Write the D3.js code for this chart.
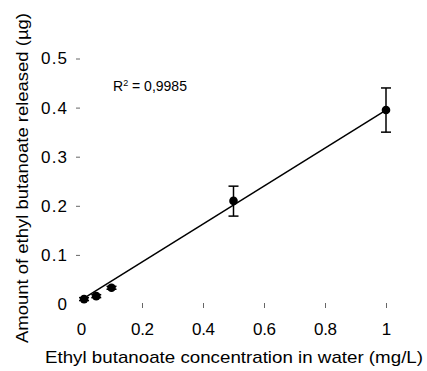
<!DOCTYPE html>
<html>
<head>
<meta charset="utf-8">
<script src="https://cdn.jsdelivr.net/npm/d3@7"></script>
<style>
  body { margin: 0; background: #fff; }
  text { font-family: "Liberation Sans", Arial, sans-serif; fill: #000; }
</style>
</head>
<body>
<div id="chart"></div>
<script>
// measured data
const concentration = [0.01, 0.05, 0.1, 0.5, 1];
const released = [0.01, 0.016, 0.033, 0.21, 0.395];
const errLow = [0.007, 0.013, 0.030, 0.179, 0.35];
const errHigh = [0.013, 0.019, 0.036, 0.24, 0.44];
const xTicks = [0, 0.2, 0.4, 0.6, 0.8, 1];
const yTicks = [0, 0.1, 0.2, 0.3, 0.4, 0.5];
const fitSlope = 0.387;
const fitIntercept = 0.008;
const fitRange = [0.01, 1];

const width = 427, height = 371;

const svg = d3.select('#chart').append('svg')
    .attr('width', width).attr('height', height);

const x = d3.scaleLinear().domain([0, 1]).range([81, 386]);
const y = d3.scaleLinear().domain([0, 0.5]).range([304, 58.5]);

// y axis, ticks only
const yAxis = svg.append('g')
    .attr('transform', 'translate(80,0)')
    .call(d3.axisLeft(y).tickValues(yTicks).tickSize(4).tickPadding(9)
        .tickFormat(d => d === 0 ? '0' : d3.format('.1f')(d)));
yAxis.select('.domain').remove();
yAxis.selectAll('.tick line').attr('stroke', '#666')
    .filter(d => d === 0).remove();
yAxis.selectAll('.tick text').style('font-size', '17px').attr('fill', '#000')
    .attr('textLength', d => d === 0 ? null : 26);

// x axis, ticks only
const xAxis = svg.append('g')
    .attr('transform', 'translate(0,303)')
    .call(d3.axisBottom(x).tickValues(xTicks).tickSize(5)
        .tickFormat(d => d === 0 || d === 1 ? String(d) : d3.format('.1f')(d)));
xAxis.select('.domain').remove();
xAxis.selectAll('.tick line').attr('stroke', '#666')
    .filter(d => d === 0).remove();
xAxis.selectAll('.tick text').style('font-size', '17px').attr('fill', '#000')
    .attr('y', 32).attr('dy', 0)
    .attr('textLength', d => d === 0 || d === 1 ? null : 23);

// regression line
svg.append('line')
    .attr('x1', x(fitRange[0])).attr('y1', y(fitIntercept + fitSlope * fitRange[0]))
    .attr('x2', x(fitRange[1])).attr('y2', y(fitIntercept + fitSlope * fitRange[1]))
    .attr('stroke', '#000').attr('stroke-width', 1.5);

const data = concentration.map((c, i) => ({ c, v: released[i], lo: errLow[i], hi: errHigh[i] }));

// error bars
const eb = svg.append('g').attr('stroke', '#000').attr('stroke-width', 1.5);
eb.selectAll('.bar').data(data).enter().append('line')
    .attr('x1', d => x(d.c)).attr('x2', d => x(d.c))
    .attr('y1', d => y(d.lo)).attr('y2', d => y(d.hi));
eb.selectAll('.cap-hi').data(data).enter().append('line')
    .attr('x1', d => x(d.c) - 5).attr('x2', d => x(d.c) + 5)
    .attr('y1', d => y(d.hi)).attr('y2', d => y(d.hi));
eb.selectAll('.cap-lo').data(data).enter().append('line')
    .attr('x1', d => x(d.c) - 5).attr('x2', d => x(d.c) + 5)
    .attr('y1', d => y(d.lo)).attr('y2', d => y(d.lo));

// points
svg.append('g').selectAll('circle').data(data).enter().append('circle')
    .attr('cx', d => x(d.c)).attr('cy', d => y(d.v)).attr('r', 4.3)
    .attr('fill', '#000');

// R squared
const r2 = svg.append('text').attr('x', 113).attr('y', 91).style('font-size', '14px');
r2.append('tspan').text('R');
r2.append('tspan').attr('dy', -5).style('font-size', '9px').text('2');
r2.append('tspan').attr('dy', 5).text(' = 0,9985');

// axis titles
svg.append('text')
    .attr('x', 45).attr('y', 363)
    .attr('textLength', 378).attr('lengthAdjust', 'spacingAndGlyphs')
    .style('font-size', '17px')
    .text('Ethyl butanoate concentration in water (mg/L)');

svg.append('text')
    .attr('transform', 'translate(28,343) rotate(-90)')
    .attr('textLength', 330).attr('lengthAdjust', 'spacingAndGlyphs')
    .style('font-size', '17px')
    .text('Amount of ethyl butanoate released (µg)');
</script>
</body>
</html>
